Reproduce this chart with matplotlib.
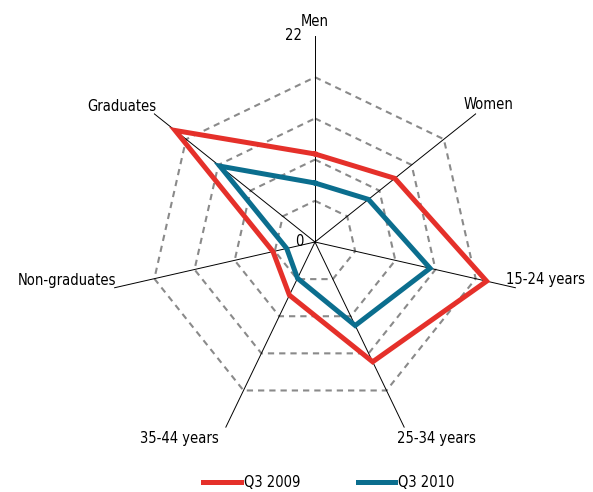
import numpy as np
import matplotlib.pyplot as plt

plt.rcParams['font.family'] = ['DejaVu Sans']
plt.rcParams['font.stretch'] = 'condensed'

categories = ['Men', 'Women', '15-24 years', '25-34 years', '35-44 years',
              'Non-graduates', 'Graduates']
q3_2009 = [9.4, 10.9, 18.8, 14.2, 6.3, 4.6, 19.1]
q3_2010 = [6.3, 7.3, 12.6, 9.9, 4.3, 3.1, 13.0]
grid_levels = [4.4, 8.8, 13.2, 17.6]
r_max = 22

red = '#e5302a'
blue = '#0b6e8e'

n = len(categories)
theta = np.arange(n) * 2 * np.pi / n
theta_c = np.append(theta, theta[0])

fig = plt.figure(figsize=(5.93, 4.92), dpi=100)
ax = fig.add_axes([109 / 593, 44 / 492, 412 / 593, 412 / 492], projection='polar')
ax.set_theta_offset(np.pi / 2)
ax.set_theta_direction(-1)
ax.set_ylim(0, r_max)
ax.grid(False)
ax.spines['polar'].set_visible(False)
ax.set_xticks([])
ax.set_yticks([])
ax.patch.set_visible(False)

# dashed heptagon grid
for lv in grid_levels:
    ax.plot(theta_c, [lv] * (n + 1), color='#8a8a8a', lw=1.5,
            linestyle=(0, (3, 2.4)), zorder=1)

# spokes
for t in theta:
    ax.plot([t, t], [0, r_max], color='black', lw=0.7, zorder=2)

def closed(v):
    return list(v) + [v[0]]

l1, = ax.plot(theta_c, closed(q3_2009), color=red, lw=3.6, zorder=3,
              solid_joinstyle='miter', label='Q3 2009')
l2, = ax.plot(theta_c, closed(q3_2010), color=blue, lw=3.6, zorder=4,
              solid_joinstyle='miter', label='Q3 2010')

px = 0.72  # pixels -> points
fs = 10.5
label_pos = [
    ('center', 'bottom', 0, 7),
    ('left', 'bottom', -12, 2),
    ('left', 'bottom', -10, 1),
    ('left', 'top', -7, -3),
    ('right', 'top', -7, -3),
    ('right', 'bottom', 2, 0),
    ('right', 'bottom', 2, 0),
]
for t, name, (ha, va, dx, dy) in zip(theta, categories, label_pos):
    ax.annotate(name, xy=(t, r_max), xytext=(dx * px, dy * px),
                textcoords='offset points', ha=ha, va=va, fontsize=fs,
                annotation_clip=False)

ax.annotate('22', xy=(0, r_max), xytext=(-13 * px, 0), textcoords='offset points',
            ha='right', va='center', fontsize=fs, annotation_clip=False)
ax.annotate('0', xy=(0, 0), xytext=(-12 * px, 0), textcoords='offset points',
            ha='right', va='center', fontsize=fs, annotation_clip=False)

fig.legend(handles=[l1, l2], loc='lower center', bbox_to_anchor=(0.555, -0.022),
           ncol=2, frameon=False, fontsize=fs, handlelength=2.55,
           handletextpad=0.25, columnspacing=3.9)

fig.savefig('out.png', dpi=100)
